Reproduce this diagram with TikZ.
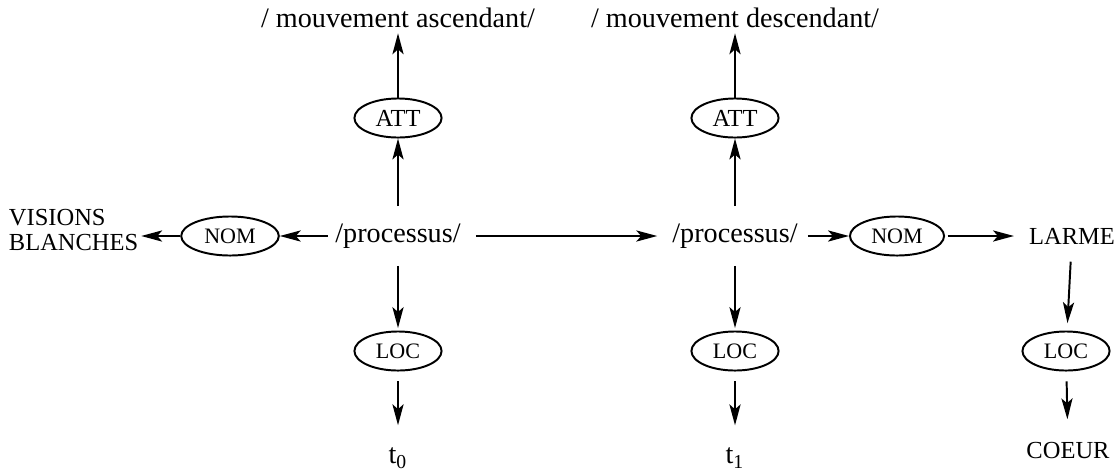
\documentclass[tikz,border=0pt]{standalone}
\usepackage{fontspec}
\setmainfont{Liberation Serif}
\usetikzlibrary{shapes.geometric,arrows.meta,positioning}
\tikzset{
rel/.style = {draw, ellipse, thick, inner sep=0pt, minimum width=12.5mm, minimum height=5.6mm, font=\small},
term/.style = {inner sep=1pt, font=\fontsize{11.5}{13}\selectfont},
cas/.style = {inner sep=1pt, font=\fontsize{10}{11.5}\selectfont, align=left},
lien/.style = {-{Stealth[length=3mm,width=1.6mm,inset=0.7mm]}, thick}
}
\begin{document}
\begin{tikzpicture}[x=0.01434cm, y=-0.01434cm]
\useasboundingbox (0,0) rectangle (1116,470);
% premier processus
\node[term] (asc) at (398,18) {/ mouvement ascendant/};
\node[rel, font=\normalsize] (att0) at (398,118) {ATT};
\node[term] (p0) at (398,236) {/processus/};
\node[rel, minimum width=14mm] (nom0) at (230,236) {NOM};
\node[cas, anchor=west] (vis) at (6,230) {VISIONS\\[-1pt]BLANCHES};
\node[rel] (loc0) at (398,351) {LOC};
\node[term] (t0) at (398,458) {t\textsubscript{0}};
% second processus
\node[term] (desc) at (735,18) {/ mouvement descendant/};
\node[rel, font=\normalsize] (att1) at (735,118) {ATT};
\node[term] (p1) at (735,236) {/processus/};
\node[rel, minimum width=13.5mm] (nom1) at (897,236) {NOM};
\node[cas] (larme) at (1072,236) {LARME};
\node[rel] (loc1) at (735,351) {LOC};
\node[term] (t1) at (735,458) {t\textsubscript{1}};
\node[rel] (loc2) at (1066,351) {LOC};
\node[cas] (coeur) at (1068,450) {COEUR};
% fleches
\draw[lien, shorten >=1pt] (att0) -- (asc);
\draw[lien, shorten <=6pt] (p0) -- (att0);
\draw[lien, shorten <=2pt] (p0) -- (nom0);
\draw[lien] (nom0) -- (vis.east |- nom0);
\draw[lien, shorten <=6pt, shorten >=1pt] (p0) -- (loc0);
\draw[lien, shorten <=4pt, shorten >=8pt] (loc0) -- (t0);
\draw[lien, shorten <=5pt, shorten >=5pt] (p0) -- (p1);
\draw[lien, shorten >=1pt] (att1) -- (desc);
\draw[lien, shorten <=6pt] (p1) -- (att1);
\draw[lien, shorten <=3pt] (p1) -- (nom1);
\draw[lien, shorten <=1pt, shorten >=5pt] (nom1) -- (larme);
\draw[lien, shorten <=6pt, shorten >=1pt] (p1) -- (loc1);
\draw[lien, shorten <=4pt, shorten >=8pt] (loc1) -- (t1);
\draw[lien, shorten <=6pt, shorten >=3pt] (larme) -- (loc2);
\draw[lien, shorten <=4pt, shorten >=8pt] (loc2) -- (coeur);
\end{tikzpicture}
\end{document}
